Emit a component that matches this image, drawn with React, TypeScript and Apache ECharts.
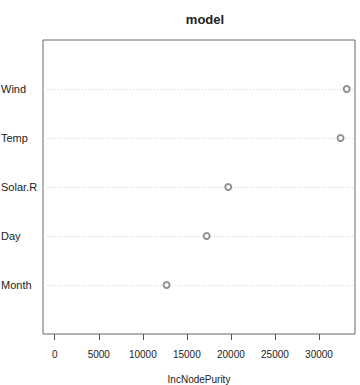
import React, { useEffect, useRef } from "react";
import * as echarts from "echarts";

const variables = ["Month", "Day", "Solar.R", "Temp", "Wind"];
const incNodePurity = [12700, 17250, 19700, 32450, 33150];
const xTicks = [0, 5000, 10000, 15000, 20000, 25000, 30000];
const chartTitle = "model";
const xTitle = "IncNodePurity";

export default function App() {
  const ref = useRef<HTMLDivElement>(null);
  useEffect(() => {
    if (!ref.current) return;
    const chart = echarts.init(ref.current, undefined, { renderer: "svg" });
    const font = "'Liberation Sans', Arial, Helvetica, sans-serif";
    chart.setOption({
      animation: false,
      backgroundColor: "#ffffff",
      textStyle: { fontFamily: font },
      title: {
        text: chartTitle,
        left: 200,
        top: 8,
        textAlign: "center",
        textStyle: { fontSize: 13, fontWeight: "bold", color: "#222", fontFamily: font },
      },
      grid: {
        left: 43,
        right: 5,
        top: 40,
        bottom: 51,
        show: true,
        borderColor: "#666",
        borderWidth: 1,
        backgroundColor: "transparent",
        containLabel: false,
        outerBoundsMode: "none",
      },
      xAxis: {
        type: "value",
        min: -1330,
        max: 34090,
        name: xTitle,
        nameLocation: "middle",
        nameGap: 40,
        nameTextStyle: { fontSize: 10, color: "#222", fontFamily: font },
        axisLine: { show: false },
        axisTick: { show: true, customValues: xTicks, length: 6, lineStyle: { color: "#555" } },
        axisLabel: {
          customValues: xTicks,
          fontSize: 10,
          color: "#222",
          margin: 15,
          fontFamily: font,
          formatter: (v: number) => String(v),
        },
        splitLine: { show: false },
      },
      yAxis: {
        type: "value",
        min: 0,
        max: 6,
        interval: 1,
        axisLine: { show: false },
        axisTick: { show: false },
        axisLabel: {
          align: "left",
          margin: 42,
          fontSize: 11,
          color: "#222",
          fontFamily: font,
          formatter: (v: number) => (v >= 1 && v <= variables.length ? variables[v - 1] : ""),
        },
        splitLine: {
          show: true,
          showMinLine: false,
          showMaxLine: false,
          lineStyle: { color: "#d4d4d4", type: [1, 2], width: 1 },
        },
      },
      series: [
        {
          type: "scatter",
          symbol: "emptyCircle",
          symbolSize: 6,
          itemStyle: { color: "#777", borderColor: "#777", borderWidth: 1 },
          data: incNodePurity.map((v, i) => [v, i + 1]),
        },
      ],
    });
    return () => chart.dispose();
  }, []);
  return (
    <div
      ref={ref}
      style={{ position: "fixed", left: 0, top: 0, width: 360, height: 385 }}
    />
  );
}
